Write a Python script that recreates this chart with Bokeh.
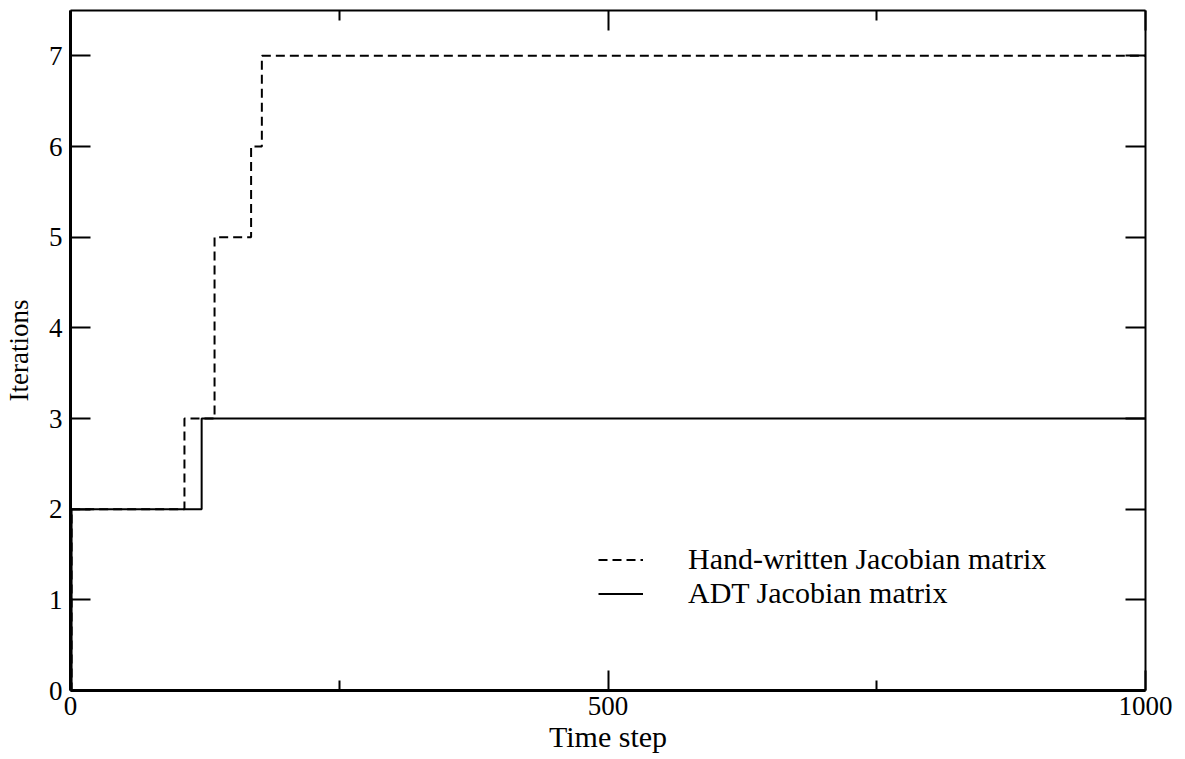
from bokeh.plotting import figure
from bokeh.models import LinearAxis, FixedTicker, Range1d, Legend, LegendItem
from bokeh.embed import file_html
from bokeh.resources import INLINE

# Data
x_hand = [0, 1, 106, 134, 168, 178, 1000]
y_hand = [0, 2, 3, 5, 6, 7, 7]
x_adt = [0, 1, 122, 1000]
y_adt = [0, 2, 3, 3]

x_major = [0, 500, 1000]
x_minor = [250, 750]
y_major = [0, 1, 2, 3, 4, 5, 6, 7]

FONT = "Liberation Serif"
FS = "27px"
FS_BIG = "30px"

p = figure(width=1185, height=759, output_backend="svg", toolbar_location=None,
           x_range=Range1d(0, 1000), y_range=Range1d(0, 7.5),
           min_border_left=68, min_border_right=40, min_border_top=10, min_border_bottom=69)
p.outline_line_color = None
p.xgrid.visible = False
p.ygrid.visible = False
p.background_fill_color = "white"
p.border_fill_color = "white"

r_hand = p.step(x_hand, y_hand, mode="after", line_color="black", line_width=2, line_dash="9 5")
r_adt = p.step(x_adt, y_adt, mode="after", line_color="black", line_width=2)

def style(ax, ticker, labels=True, width=2.5):
    ax.ticker = ticker
    ax.axis_line_color = "black"
    ax.axis_line_width = width
    ax.major_tick_in = 20
    ax.major_tick_out = 0
    ax.minor_tick_in = 10
    ax.minor_tick_out = 0
    ax.major_tick_line_width = 2
    ax.minor_tick_line_width = 2
    ax.major_tick_line_color = "black"
    ax.minor_tick_line_color = "black"
    ax.major_label_text_font = FONT
    ax.major_label_text_color = "black"
    ax.axis_label_text_font = FONT
    ax.axis_label_text_font_style = "normal"
    ax.axis_label_text_font_size = FS
    ax.axis_label_text_color = "black"
    if labels:
        ax.major_label_text_font_size = FS
    else:
        ax.major_label_text_font_size = "0px"
        ax.major_label_text_color = None
        ax.major_label_standoff = 0

xt = FixedTicker(ticks=x_major, minor_ticks=x_minor)
yt = FixedTicker(ticks=y_major, minor_ticks=[])

xa = p.xaxis[0]
style(xa, xt, True, 3)
xa.axis_label = "Time step"
xa.axis_label_text_font_size = FS_BIG
xa.major_label_standoff = 6
xa.axis_label_standoff = 2

ya = p.yaxis[0]
style(ya, yt, True, 3)
ya.axis_label = "Iterations"
ya.major_label_standoff = 8
ya.axis_label_standoff = 12

top = LinearAxis()
style(top, FixedTicker(ticks=x_major, minor_ticks=x_minor), False, 2)
p.add_layout(top, "above")
right = LinearAxis()
style(right, FixedTicker(ticks=y_major, minor_ticks=[]), False, 2)
p.add_layout(right, "right")

legend = Legend(items=[LegendItem(label="Hand-written Jacobian matrix", renderers=[r_hand]),
                       LegendItem(label="ADT Jacobian matrix", renderers=[r_adt])],
                location=(528, 80))
legend.border_line_color = None
legend.background_fill_alpha = 0
legend.padding = 0
legend.margin = 0
legend.spacing = 0
legend.glyph_width = 45
legend.glyph_height = 27
legend.label_height = 27
legend.label_standoff = 45
legend.label_text_font = FONT
legend.label_text_font_size = FS_BIG
legend.label_text_color = "black"
p.add_layout(legend, "center")

open("out.html", "w").write(file_html(p, INLINE))
